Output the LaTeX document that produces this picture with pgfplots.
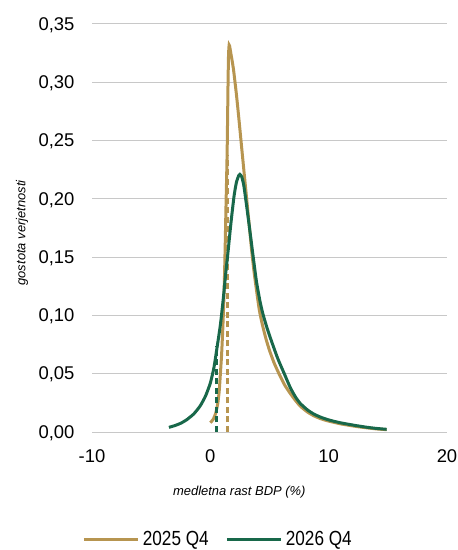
\documentclass[border=0pt]{standalone}
\usepackage{pgfplots}
\pgfplotsset{compat=1.18}
\usepackage{fontspec}
\setmainfont{Liberation Sans}
\newfontfamily\legfont[FakeStretch=0.84]{Liberation Sans}
\definecolor{cgold}{RGB}{183,149,80}
\definecolor{cgreen}{RGB}{24,104,74}
\definecolor{cgrid}{RGB}{200,200,200}
\begin{document}
\begin{tikzpicture}
\useasboundingbox (0,0) rectangle (458bp,550bp);
\begin{axis}[
  at={(92bp,118bp)}, anchor=south west,
  scale only axis, width=355bp, height=408bp,
  xmin=-10, xmax=20, ymin=0, ymax=0.35,
  xtick={-10,0,10,20},
  ytick={0,0.05,0.10,0.15,0.20,0.25,0.30,0.35},
  axis line style={draw=none},
  major tick length=0pt,
  ymajorgrids, grid style={cgrid, line width=1bp},
  /pgf/number format/assume math mode=true,
  yticklabel style={/pgf/number format/fixed, /pgf/number format/fixed zerofill, /pgf/number format/precision=2, /pgf/number format/use comma, xshift=-14bp, yshift=-1bp},
  ticklabel style={font=\fontsize{18.5}{20}\selectfont},
  xticklabel style={yshift=-14bp},
  xlabel={medletna rast BDP (\%)},
  ylabel={gostota verjetnosti},
  label style={font=\fontsize{13}{15}\itshape},
  xlabel style={at={(axis description cs:0.415,-0.148)}, anchor=center},
  ylabel style={at={(axis description cs:-0.197,0.488)}, anchor=center},
  legend style={draw=none, fill=none, at={(axis description cs:0.352,-0.263)}, anchor=center,
    font=\legfont\fontsize{20.5}{22}\selectfont, nodes={inner sep=0pt},
    /tikz/every odd column/.append style={column sep=3.5bp},
    /tikz/every even column/.append style={column sep=16.5bp}},
  legend columns=2,
  legend image code/.code={\draw[#1, line width=3.2bp] (0bp,0bp) -- (54bp,0bp);},
]
\addplot[cgold, line width=3bp, smooth, tension=0.35] coordinates {
(0.00,0.008) (0.25,0.011) (0.45,0.016) (0.62,0.024) (0.75,0.035) (0.85,0.050)
(0.95,0.066) (1.05,0.088) (1.13,0.110) (1.20,0.135) (1.26,0.162) (1.32,0.192)
(1.37,0.215) (1.42,0.240) (1.46,0.270) (1.50,0.302) (1.54,0.324) (1.59,0.332)
(1.65,0.330) (1.73,0.325) (1.85,0.318) (1.97,0.310) (2.2,0.290) (2.4,0.270)
(2.6,0.249) (2.82,0.226) (3.07,0.200) (3.3,0.176) (3.5,0.155) (3.7,0.137)
(3.95,0.118) (4.15,0.104) (4.4,0.092) (4.7,0.080) (5.0,0.070) (5.4,0.059)
(5.85,0.049) (6.3,0.040) (6.76,0.033) (7.2,0.027) (7.6,0.0222) (8.2,0.0172)
(8.73,0.0140) (9.3,0.0115) (9.86,0.0097) (10.4,0.0084) (11.0,0.0070)
(11.8,0.0056) (12.5,0.0045) (13.2,0.0036) (14.0,0.0027) (14.9,0.0020)};
\addlegendentry{2025 Q4}
\addplot[cgold, line width=3bp, dash pattern=on 6bp off 3.5bp, forget plot] coordinates {(1.42,0) (1.42,0.238)};
\addplot[cgreen, line width=3bp, smooth, tension=0.35] coordinates {
(-3.5,0.004) (-3.0,0.0055) (-2.5,0.0075) (-2.0,0.0105) (-1.4,0.0155)
(-0.85,0.0225) (-0.4,0.031) (0.0,0.042) (0.3,0.055) (0.56,0.072) (0.85,0.092)
(1.1,0.115) (1.3,0.136) (1.5,0.155) (1.75,0.180) (2.0,0.202) (2.2,0.214)
(2.4,0.220) (2.5,0.221) (2.65,0.219) (2.82,0.212) (3.0,0.199) (3.3,0.176)
(3.6,0.152) (3.9,0.129) (4.2,0.112) (4.45,0.101) (4.8,0.089) (5.2,0.077)
(5.7,0.063) (6.25,0.050) (6.76,0.038) (7.2,0.030) (7.6,0.0245) (8.2,0.019)
(8.73,0.0155) (9.3,0.0128) (9.86,0.0108) (10.4,0.0093) (11.0,0.0079)
(11.8,0.0064) (12.5,0.0052) (13.2,0.0041) (14.0,0.0031) (14.9,0.0023)};
\addlegendentry{2026 Q4}
\addplot[cgreen, line width=3bp, dash pattern=on 6bp off 3.5bp, forget plot] coordinates {(0.56,0) (0.56,0.074)};
\end{axis}
\end{tikzpicture}
\end{document}
